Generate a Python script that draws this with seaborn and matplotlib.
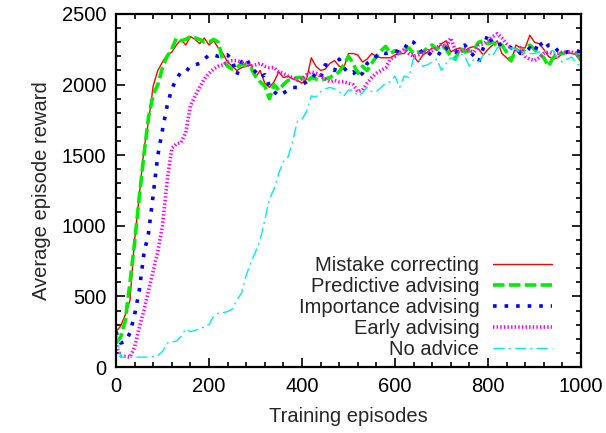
import numpy as np
import pandas as pd
import matplotlib
matplotlib.use("Agg")
import matplotlib.pyplot as plt
from matplotlib.ticker import MultipleLocator
import seaborn as sns

# Episodes sampled every 10 training episodes
episodes = list(range(0, 1001, 10))

mistake_correcting = [
    250, 290, 370, 470, 900, 1210, 1540, 1740, 1990, 2100,
    2160, 2210, 2230, 2280, 2320, 2280, 2340, 2320, 2290, 2330,
    2280, 2310, 2260, 2220, 2160, 2130, 2100, 2120, 2130, 2140,
    2050, 2100, 2010, 1980, 2020, 2090, 2050, 2060, 2040, 2030,
    2010, 2040, 2190, 2130, 2100, 2110, 2150, 2170, 2130, 2120,
    2220, 2220, 2210, 2160, 2180, 2220, 2200, 2190, 2190, 2190,
    2210, 2220, 2220, 2260, 2200, 2160, 2210, 2230, 2260, 2250,
    2290, 2310, 2230, 2250, 2260, 2240, 2260, 2270, 2250, 2210,
    2250, 2280, 2310, 2220, 2190, 2160, 2280, 2260, 2260, 2350,
    2300, 2290, 2250, 2200, 2180, 2190, 2220, 2230, 2220, 2210,
    2200,
]

predictive_advising = [
    170, 210, 330, 595, 880, 1200, 1500, 1770, 1930, 2000,
    2120, 2200, 2250, 2330, 2310, 2320, 2340, 2330, 2320, 2300,
    2300, 2320, 2300, 2170, 2130, 2110, 2120, 2150, 2130, 2120,
    2060, 2020, 1990, 1900, 2000, 1960, 2000, 2030, 2040, 2050,
    2050, 2020, 2050, 2040, 2030, 2040, 2050, 2070, 2090, 2140,
    2200, 2150, 2080, 2130, 2100, 2150, 2200, 2240, 2270, 2220,
    2240, 2220, 2240, 2260, 2220, 2230, 2230, 2260, 2280, 2250,
    2280, 2250, 2200, 2180, 2260, 2230, 2240, 2250, 2300, 2310,
    2290, 2300, 2270, 2280, 2230, 2170, 2250, 2230, 2250, 2280,
    2250, 2220, 2190, 2130, 2190, 2220, 2220, 2230, 2230, 2220,
    2170,
]

importance_advising = [
    250, 170, 180, 240, 370, 540, 800, 950, 1220, 1500,
    1680, 1850, 1970, 2040, 2090, 2090, 2130, 2140, 2150, 2180,
    2210, 2210, 2200, 2210, 2210, 2170, 2070, 2160, 2190, 2120,
    2090, 2050, 2070, 1990, 1950, 1920, 1940, 1960, 1980, 1980,
    2000, 2020, 2040, 2080, 2050, 2140, 2130, 2100, 2180, 2120,
    2080, 2090, 2050, 2080, 2150, 2170, 2200, 2230, 2220, 2230,
    2240, 2230, 2250, 2310, 2300, 2260, 2220, 2200, 2240, 2230,
    2210, 2260, 2230, 2230, 2260, 2280, 2240, 2200, 2160, 2260,
    2360, 2290, 2280, 2290, 2280, 2260, 2260, 2220, 2230, 2260,
    2230, 2310, 2250, 2280, 2280, 2240, 2220, 2230, 2240, 2240,
    2230,
]

early_advising = [
    150, 80, 75, 70, 140, 280, 400, 540, 680, 820,
    1000, 1320, 1550, 1580, 1590, 1660, 1850, 1920, 1980, 2040,
    2080, 2110, 2130, 2140, 2160, 2170, 2170, 2160, 2150, 2130,
    2140, 2150, 2130, 2120, 2120, 2090, 2080, 2060, 2050, 2030,
    2040, 2070, 2090, 2080, 2060, 2040, 2020, 2030, 2020, 2020,
    2010, 2000, 1950, 1960, 2010, 2050, 2080, 2100, 2120, 2180,
    2200, 2230, 2250, 2220, 2200, 2210, 2230, 2240, 2240, 2260,
    2290, 2270, 2330, 2240, 2230, 2250, 2240, 2230, 2280, 2290,
    2310, 2340, 2360, 2330, 2290, 2260, 2230, 2260, 2200, 2180,
    2170, 2190, 2220, 2230, 2220, 2220, 2230, 2230, 2230, 2220,
    2180,
]

no_advice = [
    260, 70, 70, 70, 70, 70, 70, 70, 75, 80,
    110, 170, 175, 185, 215, 270, 250, 260, 270, 285,
    300, 360, 380, 385, 392, 410, 474, 524, 650, 740,
    815, 899, 1040, 1190, 1260, 1370, 1455, 1487, 1600, 1740,
    1755, 1810, 1920, 1910, 1950, 1970, 1980, 1970, 1950, 1920,
    1960, 1960, 1920, 1940, 1980, 1950, 1950, 1980, 2010, 2020,
    2060, 1980, 2060, 2050, 2190, 2180, 2130, 2140, 2160, 2180,
    2100, 2150, 2190, 2180, 2220, 2200, 2130, 2180, 2160, 2210,
    2220, 2200, 2260, 2270, 2250, 2260, 2250, 2230, 2220, 2220,
    2220, 2230, 2235, 2240, 2240, 2190, 2160, 2180, 2195, 2150,
    2130,
]

series_names = ["Mistake correcting", "Predictive advising", "Importance advising",
                "Early advising", "No advice"]
series_values = [mistake_correcting, predictive_advising, importance_advising,
                 early_advising, no_advice]

sns.set_style("ticks")
plt.rcParams["font.family"] = ["Liberation Sans", "DejaVu Sans"]

fig = plt.figure(figsize=(6.06, 4.33), dpi=100)
ax = fig.add_axes([0.1914, 0.1524, 0.7673, 0.8153])

styles = [
    dict(color="#ff0000", linewidth=1.0, linestyle="-"),
    dict(color="#00ee00", linewidth=2.6, linestyle=(0, (3.2, 1.2))),
    dict(color="#0000ff", linewidth=2.6, linestyle=(0, (1, 2.2))),
    dict(color="#ff00ff", linewidth=2.6, linestyle=(0, (0.4, 0.6))),
    dict(color="#00eeee", linewidth=1.0, linestyle=(0, (8, 3, 1.5, 3))),
]

for name, vals, st in zip(series_names, series_values, styles):
    df = pd.DataFrame({"episode": episodes, "reward": vals})
    sns.lineplot(data=df, x="episode", y="reward", ax=ax, label=name, **st)

ax.set_xlim(0, 1000)
ax.set_ylim(0, 2500)
ax.xaxis.set_major_locator(MultipleLocator(200))
ax.xaxis.set_minor_locator(MultipleLocator(40))
ax.yaxis.set_major_locator(MultipleLocator(500))
ax.yaxis.set_minor_locator(MultipleLocator(100))
ax.tick_params(which="both", direction="in", top=True, right=True, labelsize=14.5,
               colors="black", width=1.2)
ax.tick_params(which="major", length=6.5, pad=7)
ax.tick_params(which="minor", length=3.5)
for sp in ax.spines.values():
    sp.set_linewidth(1.6)
    sp.set_color("black")

ax.set_xlabel("Training episodes", fontsize=14.5, labelpad=8)
ax.set_ylabel("Average episode reward", fontsize=14.5, labelpad=8)

ax.legend(loc="lower right", bbox_to_anchor=(0.946, 0.01), markerfirst=False,
          frameon=False, fontsize=14.5, handlelength=2.9, handletextpad=0.7,
          labelspacing=0.1, borderpad=0.2, borderaxespad=0.0)

fig.savefig("out.png", dpi=100)
